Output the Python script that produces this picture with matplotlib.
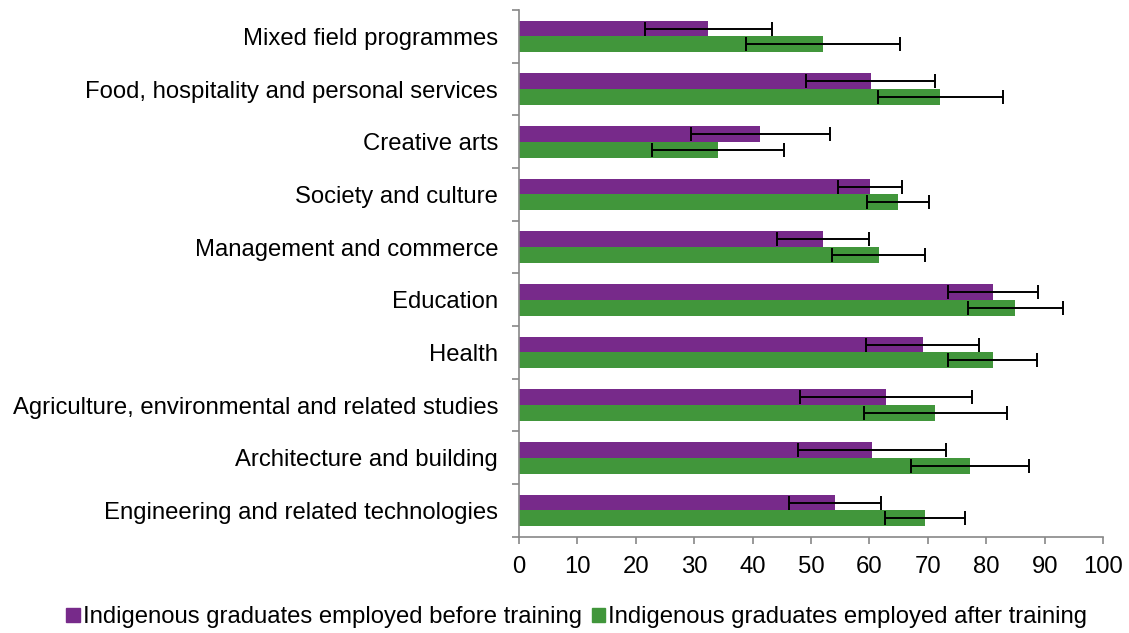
import numpy as np
import matplotlib.pyplot as plt
from matplotlib.patches import Patch

plt.rcParams['font.family'] = ['Liberation Sans', 'DejaVu Sans']

# bottom to top, as drawn
categories = [
    "Engineering and related technologies",
    "Architecture and building",
    "Agriculture, environmental and related studies",
    "Health",
    "Education",
    "Management and commerce",
    "Society and culture",
    "Creative arts",
    "Food, hospitality and personal services",
    "Mixed field programmes",
]
before = [54.1, 60.4, 62.8, 69.1, 81.1, 52.0, 60.1, 41.3, 60.2, 32.4]
before_err = [7.8, 12.7, 14.7, 9.7, 7.7, 7.9, 5.5, 11.9, 11.0, 10.9]
after = [69.5, 77.2, 71.3, 81.1, 85.0, 61.6, 64.9, 34.1, 72.1, 52.0]
after_err = [6.9, 10.1, 12.2, 7.6, 8.1, 8.0, 5.3, 11.3, 10.7, 13.2]

labels = ["Indigenous graduates employed before training",
          "Indigenous graduates employed after training"]
c_before = "#772A8A"
c_after = "#41963B"

fs = 17.2
fig = plt.figure(figsize=(11.29, 6.33), dpi=100)
ax = fig.add_axes([0.4597, 0.152, 0.977 - 0.4597, 0.984 - 0.152])

y = np.arange(len(categories))
h = 0.3
ekw = dict(ecolor="black", elinewidth=1.4, capsize=5, capthick=1.4)
ax.barh(y + h / 2, before, height=h, color=c_before, xerr=before_err, error_kw=ekw)
ax.barh(y - h / 2, after, height=h, color=c_after, xerr=after_err, error_kw=ekw)

ax.set_xlim(0, 100)
ax.set_ylim(-0.5, len(categories) - 0.5)
ax.set_xticks(np.arange(0, 101, 10))
ax.set_yticks(y)
ax.set_yticklabels(categories)
ax.set_yticks(np.arange(-0.5, len(categories), 1), minor=True)

for s in ["top", "right"]:
    ax.spines[s].set_visible(False)
for s in ["left", "bottom"]:
    ax.spines[s].set_color("#888888")
    ax.spines[s].set_linewidth(1.2)

ax.tick_params(axis="y", which="major", length=0, pad=15, labelsize=fs)
ax.tick_params(axis="y", which="minor", length=5, color="#888888", width=1.2)
ax.tick_params(axis="x", length=5, color="#888888", width=1.2, pad=9, labelsize=fs)

handles = [Patch(color=c_before), Patch(color=c_after)]
fig.legend(handles, labels, loc="center", bbox_to_anchor=(0.511, 0.025), ncol=2,
           frameon=False, fontsize=fs, handlelength=0.55, handleheight=0.55,
           handletextpad=0.15, columnspacing=0.4)

fig.savefig("out.png", dpi=100)
